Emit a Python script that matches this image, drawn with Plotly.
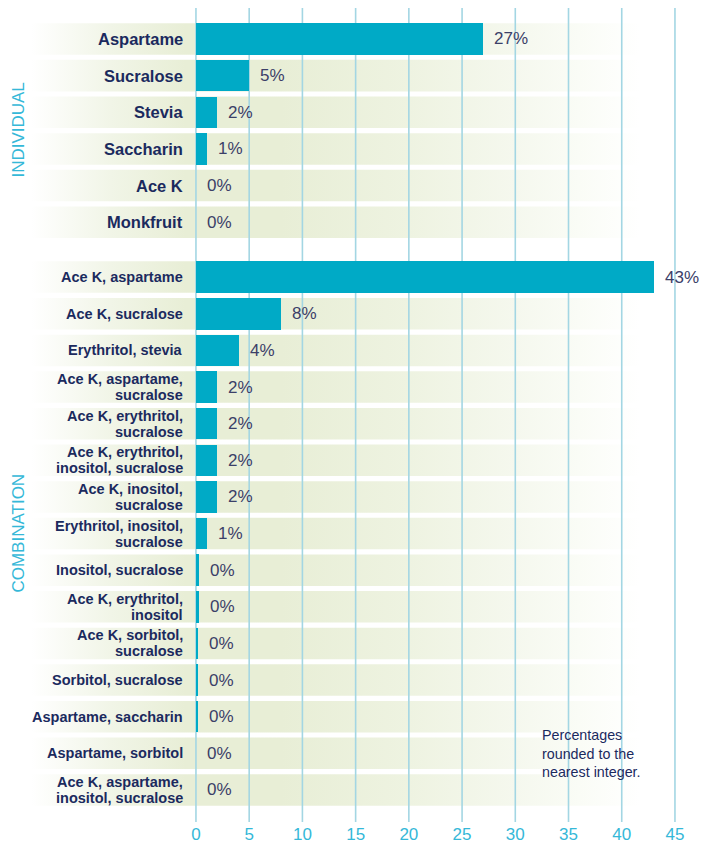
import plotly.graph_objects as go

# ---------------- data ----------------
individual_labels = ["Aspartame", "Sucralose", "Stevia", "Saccharin", "Ace K", "Monkfruit"]
individual_values = [27, 5, 2, 1, 0, 0]

combination_labels = [
    "Ace K, aspartame",
    "Ace K, sucralose",
    "Erythritol, stevia",
    "Ace K, aspartame,<br>sucralose",
    "Ace K, erythritol,<br>sucralose",
    "Ace K, erythritol,<br>inositol, sucralose",
    "Ace K, inositol,<br>sucralose",
    "Erythritol, inositol,<br>sucralose",
    "Inositol, sucralose",
    "Ace K, erythritol,<br>inositol",
    "Ace K, sorbitol,<br>sucralose",
    "Sorbitol, sucralose",
    "Aspartame, saccharin",
    "Aspartame, sorbitol",
    "Ace K, aspartame,<br>inositol, sucralose",
]
combination_values = [43, 8, 4, 2, 2, 2, 2, 1, 0.3, 0.3, 0.2, 0.2, 0.2, 0, 0]

group_names = ["INDIVIDUAL", "COMBINATION"]
x_ticks = [0, 5, 10, 15, 20, 25, 30, 35, 40, 45]
note_text = "Percentages<br>rounded to the<br>nearest integer."

# ---------------- styling ----------------
W, H = 712, 844
FONT = "Liberation Sans"
BAR = "#00aac6"
NAVY = "#1b2a5e"
VAL = "#3b4068"
CYAN = "#35b8d8"
GRID = "#a3d6e3"
GREEN = "#e8eed6"

GROUP_GAP = 0.5
BAR_W = 0.86
X_RANGE = [-18.41, 48.48]
Y_RANGE = [21.374, -0.846]
BAND_X = [-15.5, 41.7]

# positions (rows)
groups = [
    (group_names[0], individual_labels, individual_values, 16.5),
    (group_names[1], combination_labels, combination_values, 14.5),
]
rows = []  # (pos, label, value, fontsize)
group_centers = []
pos = 0.0
for gi, (gname, labs, vals, fs) in enumerate(groups):
    start = pos
    for lab, v in zip(labs, vals):
        rows.append((pos, lab, v, fs))
        pos += 1
    group_centers.append((gname, (start + pos - 1) / 2))
    pos += GROUP_GAP

fig = go.Figure()

# background bands with horizontal gradient
x0, x1 = BAND_X
def frac(x):
    return (x - x0) / (x1 - x0)
band_scale = [
    [0.0, "rgba(255,255,255,1)"],
    [frac(-8), "#f1f5e7"],
    [frac(-1), GREEN],
    [frac(8), GREEN],
    [frac(20), "#eef3e1"],
    [frac(30), "#f5f8ee"],
    [frac(36), "#fafcf6"],
    [1.0, "rgba(255,255,255,1)"],
]
for p, lab, v, fs in rows:
    y0, y1 = p - BAR_W / 2, p + BAR_W / 2
    fig.add_trace(go.Scatter(
        x=[x0, x1, x1, x0, x0], y=[y0, y0, y1, y1, y0],
        mode="lines", line=dict(width=0), fill="toself",
        fillgradient=dict(type="horizontal", colorscale=band_scale, start=x0, stop=x1),
        hoverinfo="skip", showlegend=False, xaxis="x", yaxis="y",
    ))

# gridlines (above bands, below bars)
for t in x_ticks:
    fig.add_trace(go.Scatter(
        x=[t, t], y=[Y_RANGE[1], Y_RANGE[0]], mode="lines",
        line=dict(color=GRID, width=1.6), hoverinfo="skip", showlegend=False,
        xaxis="x", yaxis="y",
    ))

# bars on overlay axes so they sit above bands/gridlines
fig.add_trace(go.Bar(
    x=[r[2] for r in rows], y=[r[0] for r in rows], orientation="h",
    width=BAR_W, marker=dict(color=BAR, line=dict(width=0)),
    xaxis="x2", yaxis="y2", showlegend=False, hoverinfo="skip",
))

annotations = []
# category labels
for p, lab, v, fs in rows:
    lines = lab.split("<br>")
    n = len(lines)
    for i, ln in enumerate(lines):
        shift = ((n - 1) / 2 - i) * 16
        annotations.append(dict(
            x=185 / W, xref="paper", xanchor="right",
            y=p, yref="y", yanchor="middle", yshift=shift,
            text=f"<b>{ln}</b>", showarrow=False,
            font=dict(family=FONT, size=fs, color=NAVY),
        ))
    # value labels
    annotations.append(dict(
        x=v, xref="x", xanchor="left", xshift=9,
        y=p, yref="y", yanchor="middle",
        text=f"{round(v)}%", showarrow=False,
        font=dict(family=FONT, size=17, color=VAL),
    ))

# group labels
for gname, c in group_centers:
    annotations.append(dict(
        x=19 / W, xref="paper", xanchor="center",
        y=c, yref="y", yanchor="middle",
        text=gname, textangle=-90, showarrow=False,
        font=dict(family=FONT, size=17, color=CYAN),
    ))

# note
annotations.append(dict(
    x=540 / W, xref="paper", xanchor="left",
    y=0.084, yref="paper", yanchor="middle",
    text=note_text, showarrow=False, align="left",
    font=dict(family=FONT, size=14.3, color=NAVY),
))

axis_common = dict(showgrid=False, zeroline=False, showline=False)
fig.update_layout(
    width=W, height=H,
    margin=dict(l=0, r=0, t=8, b=22),
    paper_bgcolor="white", plot_bgcolor="rgba(0,0,0,0)",
    xaxis=dict(range=X_RANGE, tickvals=x_ticks, ticks="",
               tickfont=dict(family=FONT, size=17, color=CYAN),
               automargin=False, **axis_common),
    yaxis=dict(range=Y_RANGE, showticklabels=False, automargin=False, **axis_common),
    xaxis2=dict(range=X_RANGE, overlaying="x", showticklabels=False, **axis_common),
    yaxis2=dict(range=Y_RANGE, overlaying="y", showticklabels=False, **axis_common),
    annotations=annotations,
    bargap=0,
)

fig.write_html("out.html")
